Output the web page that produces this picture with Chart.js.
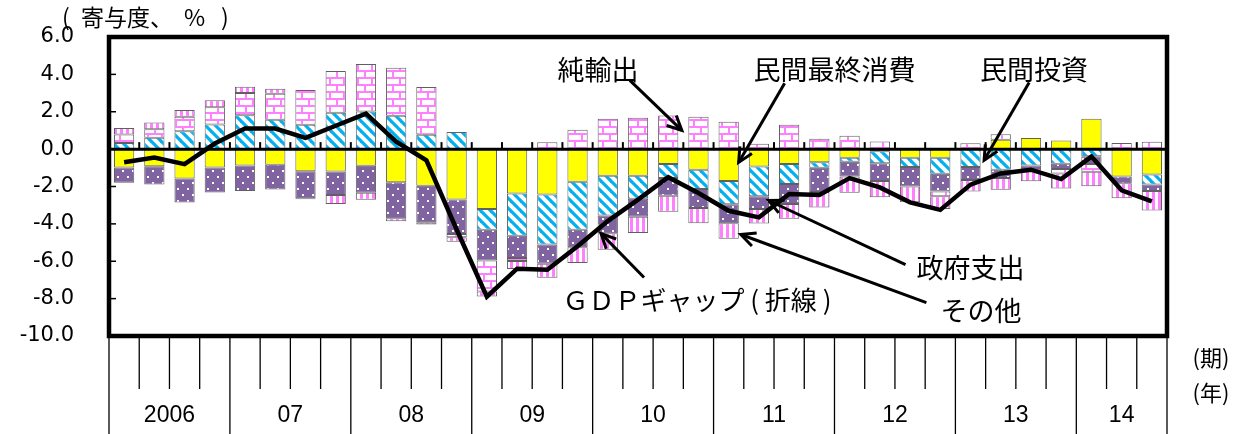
<!DOCTYPE html>
<html>
<head>
<meta charset="utf-8">
<script src="https://cdn.jsdelivr.net/npm/chart.js@4/dist/chart.umd.min.js"></script>
<style>
  body { margin: 0; background: #fff; }
  #grafico { display: block; }
</style>
</head>
<body>
<canvas id="grafico" width="1243" height="434"></canvas>
<script>
    /*      DATOS: contribuciones a la brecha del PIB (trimestral)     */

    var anios = ['2006', '07', '08', '09', '10', '11', '12', '13', '14'];
    var trimestresPorAnio = [4, 4, 4, 4, 4, 4, 4, 4, 3];

    // 民間最終消費
    var consumo = [-0.98, -0.91, -1.57, -0.98, -0.88, -0.84, -1.18, -1.2, -0.89, -1.77, -1.96, -2.7,
        -3.2, -2.38, -2.43, -1.75, -1.43, -1.43, -0.79, -1.11, -1.7, -0.93, -0.79, -0.7,
        -0.46, -0.11, -0.46, -0.46, 0, 0.5, 0.59, 0.46, 1.63, -1.46, -1.36];
    // 民間投資
    var inversion = [0.33, 0.61, 0.96, 1.32, 1.81, 1.57, 1.3, 1.95, 2.02, 1.79, 0.77, 0.91,
        -1.12, -2.25, -2.68, -2.57, -2.12, -1.23, -0.76, -1.02, -1.25, -1.59, -1.07, -0.29,
        -0.22, -0.64, -0.5, -0.86, -0.95, -1.11, -0.88, -0.78, -0.38, 0, -0.53];
    // 政府支出
    var gobierno = [-0.82, -0.98, -1.29, -1.34, -1.36, -1.32, -1.45, -1.25, -1.45, -1.93, -1.95, -1.84,
        -1.64, -1.2, -1.02, -0.93, -0.95, -0.96, -0.94, -1.02, -1.02, -0.68, -1.07, -1.3,
        -0.78, -0.96, -1.04, -0.95, -0.7, -0.43, -0.27, -0.28, -0.41, -0.37, -0.35];
    // 純輸出
    var exportNetas = [0.45, 0.46, 0.77, 0.92, 1.2, 1.39, 1.87, 2.23, 2.54, 2.57, 2.55, -0.18,
        -1.66, -0.16, 0.37, 1.04, 1.63, 1.68, 1.8, 1.73, 1.46, 0.29, 1.3, 0.55,
        0.71, 0.41, 0, -0.25, 0.32, 0.3, 0, -0.25, -0.42, 0.33, 0.4];
    // その他
    var otros = [0.35, 0.36, 0.36, 0.38, 0.33, 0.27, -0.05, -0.48, -0.37, -0.16, -0.12, -0.23,
        -0.27, -0.42, -0.75, -0.84, -0.88, -0.87, -0.86, -0.81, -0.82, -0.78, -0.8, -0.83,
        -0.88, -0.86, -0.84, -0.68, -0.62, -0.64, -0.57, -0.8, -0.77, -0.8, -1.04];
    // GDPギャップ（折線）
    var brechaPIB = [-0.7, -0.45, -0.8, 0.3, 1.1, 1.1, 0.6, 1.25, 1.9, 0.4, -0.6, -4.3,
        -7.9, -6.4, -6.45, -5.2, -3.85, -2.7, -1.5, -2.35, -3.3, -3.65, -2.4, -2.45,
        -1.55, -2.05, -2.85, -3.25, -1.9, -1.3, -1.1, -1.6, -0.4, -2.2, -2.8];

    var ejeY = { min: -10, max: 6, paso: 2 };

    // etiquetas con flecha: [texto, x, y, x inicio, y inicio, x punta, y punta] en unidades del grafico
    var notas = [
        ['純輸出', 15.68, 4.27, 16.73, 3.68, 18.45, 1.0],
        ['民間最終消費', 23.5, 4.27, 21.85, 3.52, 20.33, -0.71],
        ['民間投資', 30.1, 4.27, 29.94, 3.57, 28.45, -0.6],
        ['政府支出', 28.0, -6.34, 25.85, -6.18, 21.32, -2.75],
        ['その他', 28.35, -8.64, 26.54, -8.21, 20.4, -4.57],
        ['ＧＤＰギャップ ( 折線 )', 18.95, -8.1, 17.2, -6.87, 15.78, -4.52]
    ];

    var categorias = [];
    anios.forEach(function(a, i) {
        for (var q = 1; q <= trimestresPorAnio[i]; q++) {
            categorias.push(a + '-' + q);
        }
    });

    /*      TRAMAS     */

    function crearTrama(w, h, dibujar) {
        var c = document.createElement('canvas');
        c.width = w;
        c.height = h;
        var g = c.getContext('2d');
        dibujar(g, w, h);
        return g.createPattern(c, 'repeat');
    }

    var rosa = '#ff80ff';

    var tramaLadrillo = crearTrama(14, 14, function(g, w, h) {
        g.fillStyle = '#fff';
        g.fillRect(0, 0, w, h);
        g.fillStyle = rosa;
        g.fillRect(0, 0, w, 2);
        g.fillRect(0, 7, w, 2);
        g.fillRect(0, 2, 2, 5);
        g.fillRect(7, 9, 2, 5);
    });

    var tramaDiagonal = crearTrama(10, 10, function(g, w, h) {
        g.fillStyle = '#fff';
        g.fillRect(0, 0, w, h);
        g.strokeStyle = '#00b0f0';
        g.lineWidth = 3.2;
        for (var k = -2; k <= 2; k++) {
            g.beginPath();
            g.moveTo(-10, -10 + k * 10);
            g.lineTo(20, 20 + k * 10);
            g.stroke();
        }
    });

    var tramaPuntos = crearTrama(10, 12, function(g, w, h) {
        g.fillStyle = '#8064a2';
        g.fillRect(0, 0, w, h);
        g.fillStyle = '#fff';
        g.fillRect(2, 2, 2, 2);
        g.fillRect(7, 8, 2, 2);
    });

    var tramaVertical = crearTrama(6, 4, function(g, w, h) {
        g.fillStyle = '#fff';
        g.fillRect(0, 0, w, h);
        g.fillStyle = rosa;
        g.fillRect(0, 0, 3, h);
    });

    /*      DECORACION: marco, eje 0, ejes de periodo y notas     */

    var fuenteJP = '"Noto Sans CJK JP", sans-serif';

    function flecha(ctx, x0, y0, x1, y1) {
        ctx.beginPath();
        ctx.moveTo(x0, y0);
        ctx.lineTo(x1, y1);
        ctx.stroke();
        var ang = Math.atan2(y1 - y0, x1 - x0);
        var largo = 16;
        ctx.beginPath();
        ctx.moveTo(x1 - largo * Math.cos(ang - 0.45), y1 - largo * Math.sin(ang - 0.45));
        ctx.lineTo(x1, y1);
        ctx.lineTo(x1 - largo * Math.cos(ang + 0.45), y1 - largo * Math.sin(ang + 0.45));
        ctx.stroke();
    }

    var decoracion = {
        id: 'decoracion',
        afterDatasetDraw: function(chart, args) {
            if (args.index !== 0) return;
            var ctx = chart.ctx;
            var x = chart.scales.x;
            var y = chart.scales.y;
            var area = chart.chartArea;
            var y0 = y.getPixelForValue(0);
            ctx.save();
            ctx.strokeStyle = '#000';
            ctx.lineWidth = 3;
            ctx.beginPath();
            ctx.moveTo(area.left, y0);
            ctx.lineTo(area.right, y0);
            ctx.stroke();
            // marcas cortas sobre el eje 0
            ctx.lineWidth = 2;
            for (var i = 0; i < categorias.length - 1; i++) {
                var xb = (x.getPixelForValue(i) + x.getPixelForValue(i + 1)) / 2;
                ctx.beginPath();
                ctx.moveTo(xb, y0);
                ctx.lineTo(xb, y0 - 7);
                ctx.stroke();
            }
            ctx.restore();
        },
        afterDraw: function(chart) {
            var ctx = chart.ctx;
            var x = chart.scales.x;
            var y = chart.scales.y;
            var area = chart.chartArea;
            ctx.save();

            // marcas internas del eje Y
            ctx.strokeStyle = '#000';
            ctx.lineWidth = 1.5;
            for (var v = ejeY.min; v <= ejeY.max; v += ejeY.paso) {
                var py = y.getPixelForValue(v);
                ctx.beginPath();
                ctx.moveTo(area.left, py);
                ctx.lineTo(area.left + 7, py);
                ctx.stroke();
            }

            // marco del area
            ctx.lineWidth = 4.5;
            ctx.strokeRect(area.left, area.top, area.right - area.left, area.bottom - area.top);

            // lineas de trimestre y de año bajo el area
            ctx.lineWidth = 1.3;
            var inicio = 0;
            var bordes = [];
            trimestresPorAnio.forEach(function(n) {
                var izq = inicio === 0 ? area.left : (x.getPixelForValue(inicio - 1) + x.getPixelForValue(inicio)) / 2;
                var fin = inicio + n;
                var der = fin >= categorias.length ? area.right : (x.getPixelForValue(fin - 1) + x.getPixelForValue(fin)) / 2;
                bordes.push([izq, der]);
                for (var k = inicio; k < fin - 1; k++) {
                    var xq = (x.getPixelForValue(k) + x.getPixelForValue(k + 1)) / 2;
                    ctx.beginPath();
                    ctx.moveTo(xq, area.bottom);
                    ctx.lineTo(xq, area.bottom + 53);
                    ctx.stroke();
                }
                inicio = fin;
            });
            bordes.forEach(function(b, i) {
                ctx.beginPath();
                ctx.moveTo(b[0], area.bottom);
                ctx.lineTo(b[0], chart.height);
                ctx.stroke();
                if (i === bordes.length - 1) {
                    ctx.beginPath();
                    ctx.moveTo(b[1], area.bottom);
                    ctx.lineTo(b[1], chart.height);
                    ctx.stroke();
                }
            });

            ctx.fillStyle = '#000';
            ctx.textAlign = 'center';
            ctx.textBaseline = 'middle';
            ctx.font = '23px "Liberation Sans", Arial, sans-serif';
            bordes.forEach(function(b, i) {
                ctx.fillText(anios[i], (b[0] + b[1]) / 2, area.bottom + 80);
            });
            ctx.font = '22px ' + fuenteJP;
            ctx.fillText('(期)', 1211, area.bottom + 22);
            ctx.fillText('(年)', 1211, area.bottom + 57);

            // titulo del eje
            ctx.textAlign = 'left';
            ctx.font = '23px ' + fuenteJP;
            ctx.fillText('(', 62, 17);
            ctx.fillText('寄与度、', 81, 17);
            ctx.fillText('%', 184, 17);
            ctx.fillText(')', 221, 17);

            // notas con flecha
            ctx.lineWidth = 3;
            ctx.textAlign = 'center';
            notas.forEach(function(n, i) {
                ctx.font = (i === notas.length - 1 ? '26px ' : '27px ') + fuenteJP;
                ctx.fillText(n[0], x.getPixelForValue(n[1]), y.getPixelForValue(n[2]));
                flecha(ctx, x.getPixelForValue(n[3]), y.getPixelForValue(n[4]),
                    x.getPixelForValue(n[5]), y.getPixelForValue(n[6]));
            });

            ctx.restore();
        }
    };

    /*      GRAFICO     */

    function serieBarra(nombre, datos, fondo) {
        return {
            type: 'bar',
            label: nombre,
            data: datos,
            backgroundColor: fondo,
            borderColor: '#606060',
            borderWidth: 1,
            borderSkipped: false,
            categoryPercentage: 1,
            barPercentage: 0.67,
            stack: 'pib',
            order: 1
        };
    }

    var ctx = document.getElementById('grafico').getContext('2d');
    var grafico = new Chart(ctx, {
        data: {
            labels: categorias,
            datasets: [
                serieBarra('民間最終消費', consumo, '#ffff00'),
                serieBarra('民間投資', inversion, tramaDiagonal),
                serieBarra('政府支出', gobierno, tramaPuntos),
                serieBarra('純輸出', exportNetas, tramaLadrillo),
                serieBarra('その他', otros, tramaVertical),
                {
                    type: 'line',
                    label: 'GDPギャップ（折線）',
                    data: brechaPIB,
                    borderColor: '#000',
                    borderWidth: 4.5,
                    pointRadius: 0,
                    tension: 0,
                    order: 0
                }
            ]
        },
        options: {
            responsive: false,
            animation: false,
            devicePixelRatio: 1,
            layout: { autoPadding: false, padding: { top: 37, right: 76, left: 0, bottom: 0 } },
            plugins: {
                legend: { display: false },
                tooltip: { enabled: false }
            },
            scales: {
                x: {
                    type: 'category',
                    stacked: true,
                    grid: { display: false },
                    border: { display: false },
                    ticks: { display: false },
                    afterFit: function(scale) { scale.height = 98; }
                },
                y: {
                    type: 'linear',
                    stacked: true,
                    min: ejeY.min,
                    max: ejeY.max,
                    grid: { display: false, drawTicks: false },
                    border: { display: false },
                    ticks: {
                        stepSize: ejeY.paso,
                        padding: 35,
                        color: '#000',
                        font: { family: '"DejaVu Sans", sans-serif', size: 21 },
                        callback: function(v) { return v.toFixed(1); }
                    },
                    afterFit: function(scale) {
                        scale.width = 109;
                        // el padding de las etiquetas no debe empujar el area hacia abajo
                        scale.paddingTop = 12;
                        scale.paddingBottom = 12;
                    }
                }
            }
        },
        plugins: [decoracion]
    });
</script>
</body>
</html>
